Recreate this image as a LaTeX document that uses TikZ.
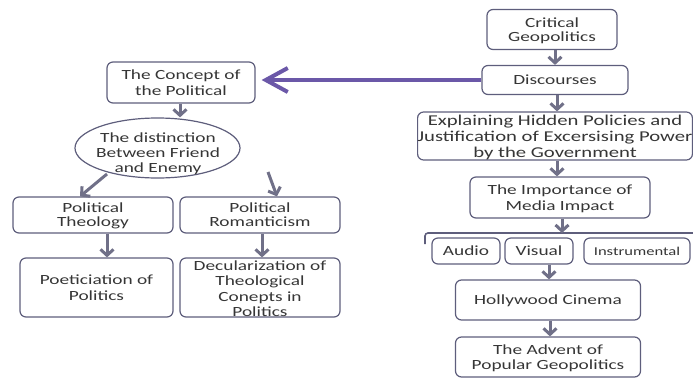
\documentclass[tikz,border=0pt]{standalone}
\usepackage{fontspec}
\setmainfont[FakeStretch=1.38]{Carlito}
\usetikzlibrary{arrows.meta,shapes.geometric}
\definecolor{boxc}{HTML}{5E5E7C}
\definecolor{arrc}{HTML}{707088}
\definecolor{purp}{HTML}{6B58A8}
\definecolor{txt}{HTML}{363636}
\begin{document}
\begin{tikzpicture}[x=1pt,y=-1pt,
  box/.style={draw=boxc, line width=1.2pt, rounded corners=6pt, fill=white,
    align=center, inner sep=0pt, text depth=0pt, text=txt, font=\fontsize{14}{15.5}\selectfont},
  txtnode/.style={align=center, inner sep=0pt, text depth=0pt, text=txt, font=\fontsize{14}{15}\selectfont},
  arr/.style={draw=arrc, line width=3pt, -{Straight Barb[length=6pt,width=13pt]}},
  bigarr/.style={draw=purp, line width=4pt, -{Straight Barb[length=22pt,width=24pt]}}
]
\useasboundingbox (0,0) rectangle (693,378);
% right column
\node[box, minimum width=130pt, minimum height=40pt, font=\fontsize{14}{14.5}\selectfont] (crit) at (552,29.5) {Critical\\Geopolitics};
\node[box, minimum width=146pt, minimum height=29pt] (disc) at (555,80) {Discourses};
\node[box, minimum width=274pt, minimum height=48pt, font=\fontsize{15}{16}\selectfont] (expl) at (555,136) {Explaining Hidden Policies and\\Justification of Excersising Power\\by the Government};
\node[box, minimum width=180pt, minimum height=41pt, font=\fontsize{14}{16.5}\selectfont] (imp) at (560,197.5) {The Importance of\\Media Impact};
\node[box, minimum width=68pt, minimum height=26pt] (audio) at (466,251) {Audio};
\node[box, minimum width=68pt, minimum height=26pt] (visual) at (539,251) {Visual};
\node[box, minimum width=106pt, minimum height=26pt, font=\fontsize{12}{13}\selectfont] (instr) at (637,251) {Instrumental};
\node[box, minimum width=185pt, minimum height=40pt] (holly) at (548,300) {Hollywood Cinema};
\node[box, minimum width=185pt, minimum height=40pt] (advent) at (548,357) {The Advent of\\Popular Geopolitics};
% left column
\node[box, minimum width=148pt, minimum height=41pt, font=\fontsize{14}{16.5}\selectfont] (concept) at (181,82.5) {The Concept of\\the Political};
\node[box, ellipse, minimum width=165pt, minimum height=60pt] (ell) at (157.5,148) {};
\node[txtnode] (ellt) at (158,153) {The distinction\\Between Friend\\and Enemy};
\node[box, minimum width=160pt, minimum height=36pt, font=\fontsize{14}{14}\selectfont] (ptheo) at (93,215) {Political\\Theology};
\node[box, minimum width=160pt, minimum height=36pt, font=\fontsize{14}{14}\selectfont] (prom) at (260,215) {Political\\Romanticism};
\node[box, minimum width=153pt, minimum height=59pt, font=\fontsize{14}{16.5}\selectfont] (poet) at (96.5,287.5) {Poeticiation of\\Politics};
\node[box, minimum width=160pt, minimum height=59pt] (decul) at (260,287.5) {\\[-4pt]Decularization of\\Theological\\Conepts in\\Politics};
% bracket
\coordinate (bl) at (425,244);
\coordinate (br) at (693,233);
\draw[boxc, line width=1.6pt, rounded corners=3pt] (bl) -- (425,233) -- (br);
% arrows right
\draw[arr] ([xshift=3pt]crit.south) -- ([xshift=3pt]crit.south |- disc.north);
\draw[arr] ([xshift=2pt]disc.south) -- ([xshift=2pt]disc.south |- expl.north);
\draw[arr] ([xshift=2pt]expl.south) -- ([xshift=2pt]expl.south |- imp.north);
\draw[arr] ([xshift=2pt]imp.south) -- ([xshift=2pt]imp.south |- br);
\draw[arr] ([xshift=10pt]visual.south) -- ([xshift=10pt]visual.south |- holly.north);
\draw[arr] ([xshift=2pt]holly.south) -- ([xshift=2pt]holly.south |- advent.north);
% big purple arrow
\draw[bigarr, shorten >=6pt] (disc.west) -- (disc.west -| concept.east);
% arrows left
\draw[arr] ([xshift=-1pt]concept.south) -- ([xshift=-1pt]concept.south |- ell.north);
\coordinate (el) at (107,174);
\coordinate (er) at (268,172);
\draw[arr] (el) -- ([xshift=-13pt]ptheo.north);
\draw[arr] (er) -- ([xshift=17pt]prom.north);
\draw[arr] ([xshift=14pt]ptheo.south) -- ([xshift=14pt]ptheo.south |- poet.north);
\draw[arr] ([xshift=2pt]prom.south) -- ([xshift=2pt]prom.south |- decul.north);
\end{tikzpicture}
\end{document}
